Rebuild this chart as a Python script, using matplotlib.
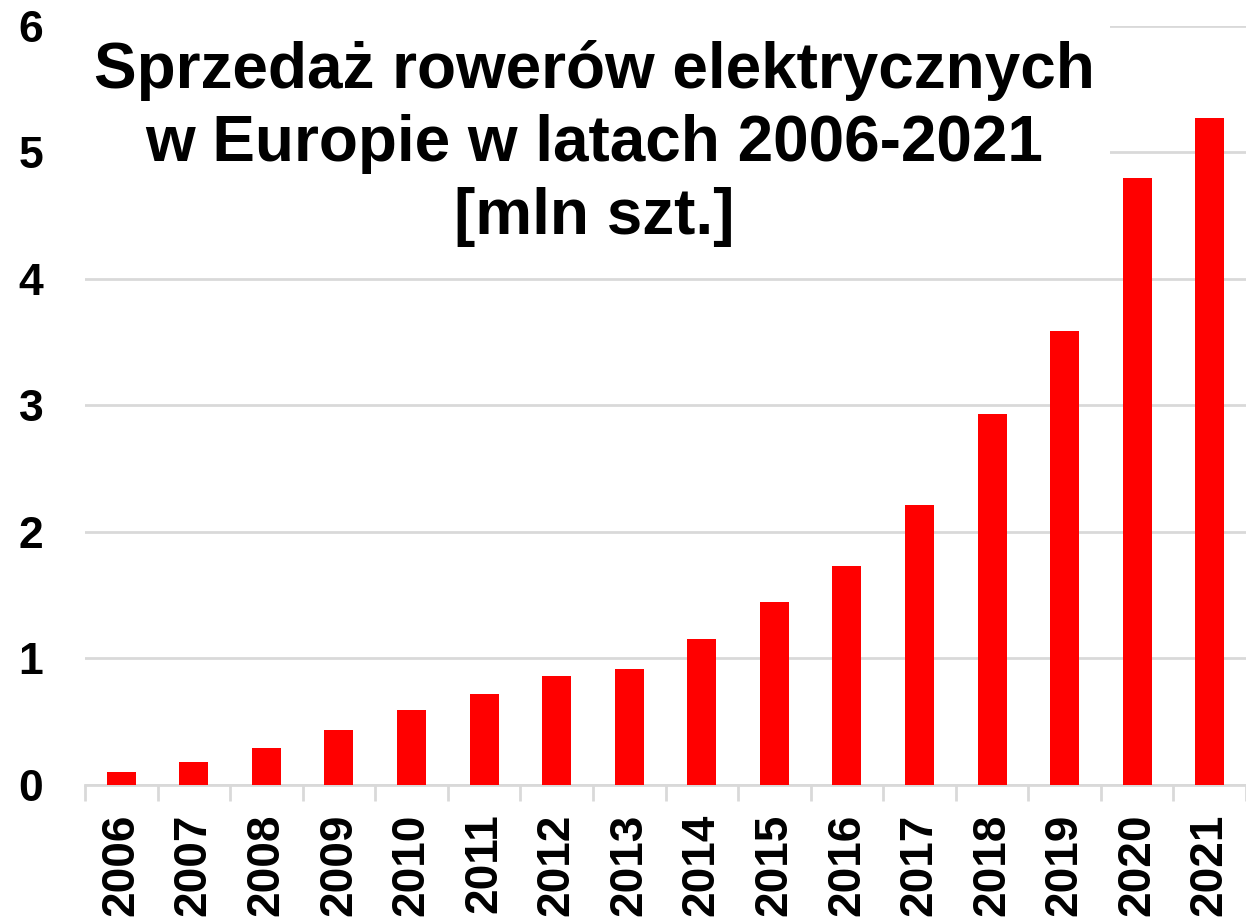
import matplotlib.pyplot as plt

years = ['2006', '2007', '2008', '2009', '2010', '2011', '2012', '2013',
         '2014', '2015', '2016', '2017', '2018', '2019', '2020', '2021']
sales = [0.10, 0.18, 0.29, 0.43, 0.59, 0.72, 0.86, 0.91,
         1.15, 1.44, 1.73, 2.21, 2.93, 3.59, 4.80, 5.27]
title = 'Sprzedaż rowerów elektrycznych\nw Europie w latach 2006-2021\n[mln szt.]'

plt.rcParams['font.family'] = ['Liberation Sans', 'DejaVu Sans']
plt.rcParams['font.weight'] = 'bold'

fig = plt.figure(figsize=(12.46, 9.23), dpi=100)
ax = fig.add_axes([85 / 1246, 0.150, 1 - 85 / 1246, 0.822])

x = range(len(years))
ax.bar(x, sales, width=0.4, color='#ff0000', zorder=3)
ax.set_xlim(-0.5, len(years) - 0.5)
ax.set_ylim(0, 6)
ax.set_yticks(range(0, 7))
ax.yaxis.grid(True, color='#d9d9d9', linewidth=2, zorder=0)
ax.set_axisbelow(True)

# category separators as major ticks, year labels as minor ticks
ax.set_xticks([i - 0.5 for i in range(len(years) + 1)], minor=False)
ax.set_xticklabels([''] * (len(years) + 1))
ax.set_xticks(list(x), minor=True)
ax.set_xticklabels(years, minor=True, rotation=90, fontsize=33, fontweight='bold')
ax.tick_params(axis='x', which='major', length=11.5, width=2, color='#d9d9d9')
ax.tick_params(axis='x', which='minor', length=0, pad=21)
ax.tick_params(axis='y', length=0, labelsize=32, pad=30)
for lab in ax.get_yticklabels():
    lab.set_fontweight('bold')

for s in ['top', 'right', 'left']:
    ax.spines[s].set_visible(False)
ax.spines['bottom'].set_color('#d9d9d9')
ax.spines['bottom'].set_linewidth(2)

fig.text(594 / 1246, 1 - 40 / 923, title, ha='center', va='top',
         fontsize=46, fontweight='bold', linespacing=1.28,
         bbox=dict(facecolor='white', edgecolor='none', boxstyle='square,pad=0.25'),
         zorder=5)

fig.savefig('out.png', dpi=100)
